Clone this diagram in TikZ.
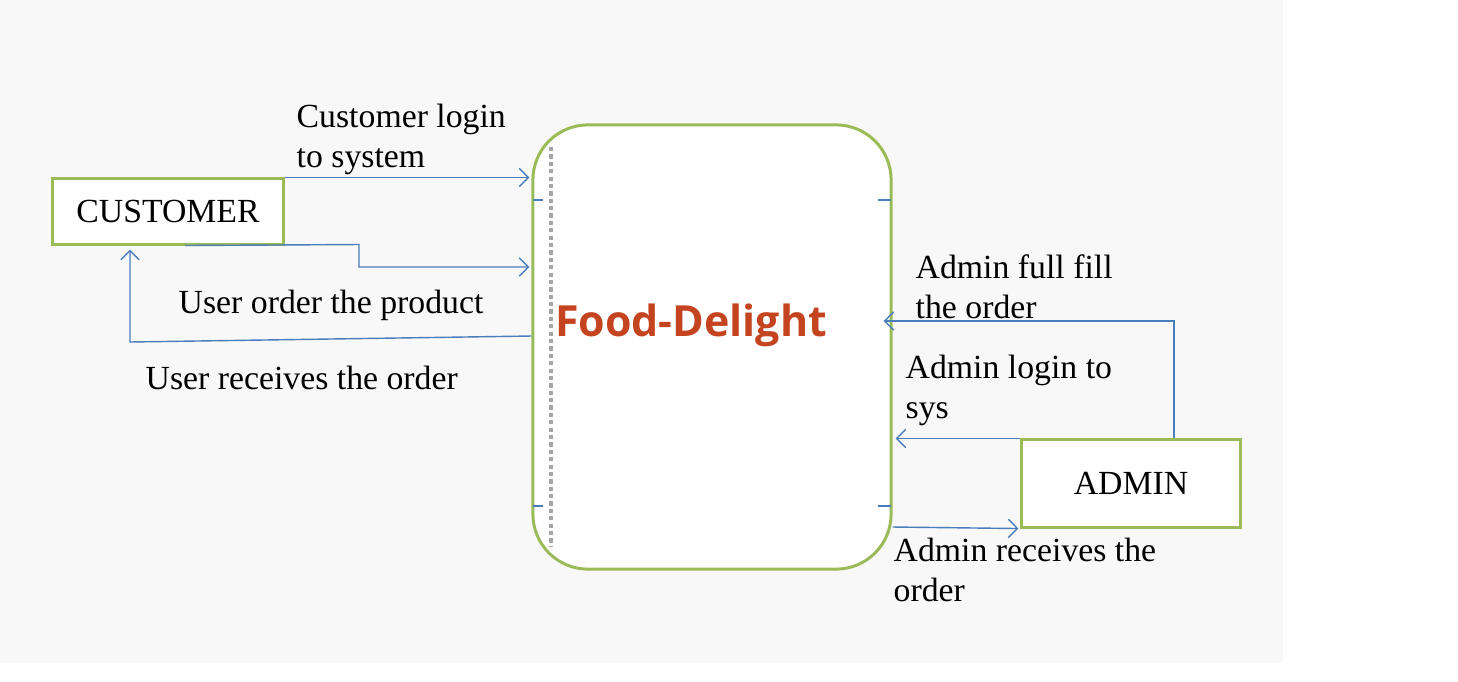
\documentclass[tikz,border=0pt]{standalone}
\usepackage{fontspec}
\setmainfont{Liberation Serif}
\newfontfamily\headfont{Open Sans}
\usetikzlibrary{calc,arrows.meta}
\definecolor{bggray}{RGB}{248,248,248}
\definecolor{boxgreen}{RGB}{155,187,89}
\definecolor{flowblue}{RGB}{74,126,187}
\definecolor{titlered}{RGB}{195,68,31}
\definecolor{dotgray}{RGB}{165,165,165}
\tikzset{
  entity/.style={draw=boxgreen, line width=0.85pt, fill=white, inner sep=0pt,
    font=\fontsize{9.6}{11.5}\selectfont},
  process/.style={draw=boxgreen, line width=0.85pt, fill=white, inner sep=0pt,
    rounded corners=0.55cm},
  flow/.style={draw=flowblue, line width=0.4pt, -{Straight Barb[length=2.6pt,width=5.2pt,line width=0.4pt]}},
  tick/.style={draw=flowblue, line width=0.4pt},
  lbl/.style={anchor=base west, inner sep=0pt, align=left,
    font=\fontsize{9.6}{11.1}\selectfont}
}
\begin{document}
\begin{tikzpicture}[x=0.01cm,y=-0.01cm]
\useasboundingbox (0,0) rectangle (1458,681);
\fill[white] (0,0) rectangle (1458,681);
\fill[bggray] (0,0) rectangle (1283,663);
% process
\node[process, minimum width=3.58cm, minimum height=4.44cm] (sys) at (712,347) {};
\draw[dotgray, line width=0.9pt, dash pattern=on 1.2pt off 0.9pt] (551,147) -- (551,546);
\node[font=\headfont\bfseries\fontsize{12.2}{15}\selectfont, text=titlered, inner sep=0pt] (title) at (691,325) {Food-Delight};
\draw[tick] (533,200) -- (543,200);
\draw[tick] (878,200) -- (891,200);
\draw[tick] (533,506) -- (543,506);
\draw[tick] (878,506) -- (891,506);
% entities
\node[entity, minimum width=2.30cm, minimum height=0.65cm] (customer) at (168,211.5) {CUSTOMER};
\node[entity, minimum width=2.18cm, minimum height=0.87cm] (admin) at (1131,483.5) {ADMIN};
% flows customer side
\draw[flow] (customer.north east) -- ($(customer.north east -| sys.west)+(-2,0)$);
\draw[flow] ($(customer.south)+(17,0)$) -- (359,244.5) -- (359,267) -- ($(sys.west |- 0,267)+(-2,0)$);
\draw[flow] (sys.west |- 0,336) -- (130,342) -- ($(customer.south -| 130,0)+(0,4)$);
% flows admin side
\draw[flow] (admin.north -| 1174,0) -- (1174,321) -- ($(sys.east |- 0,321)+(-9,0)$);
\draw[flow] (admin.north west) -- ($(sys.east |- admin.north west)+(3,0)$);
\draw[flow] (sys.east |- 0,527) -- ($(admin.south west)+(-2,0)$);
% labels (base = baseline of the last line)
\node[lbl] (l1) at (296,167) {Customer login\\to system};
\node[lbl] (l2) at (178,313) {User order the product};
\node[lbl] (l3) at (145,389) {User receives the order};
\node[lbl] (l4) at (915,318) {Admin full fill\\the order};
\node[lbl] (l5) at (905,418) {Admin login to\\sys};
\node[lbl] (l6) at (893,601) {Admin receives the\\order};
\end{tikzpicture}
\end{document}
